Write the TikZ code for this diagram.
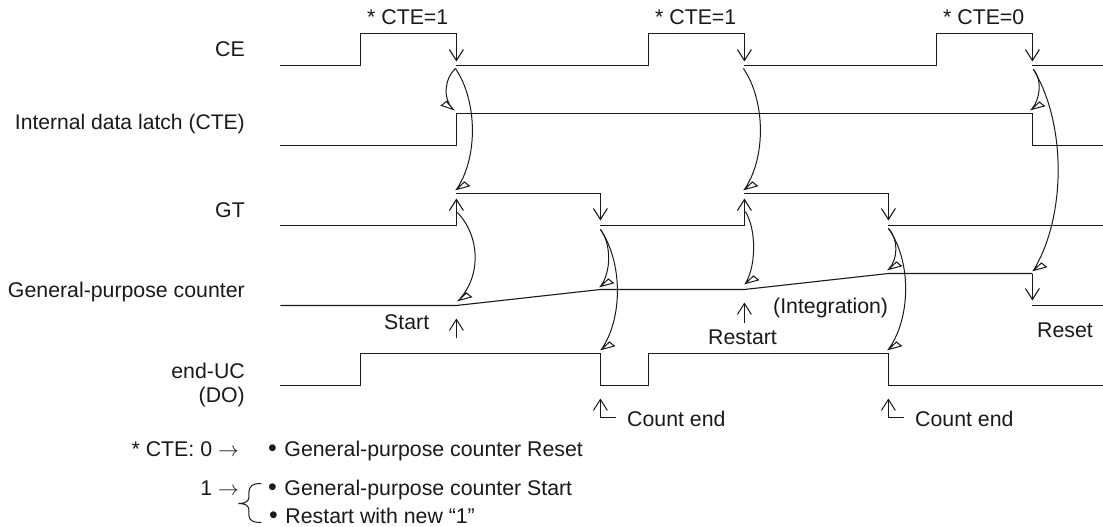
\documentclass[tikz,border=0pt]{standalone}
\usepackage{fontspec}
\setmainfont{Liberation Sans}
\usetikzlibrary{arrows.meta}
\definecolor{ink}{HTML}{1A1A1A}
\tikzset{
  wave/.style={draw=ink,line width=1.1pt},
  vee/.style={wave,-{Straight Barb[length=11pt,width=14pt,line width=1.1pt]}},
  cue/.style={draw=ink,line width=1pt,-{Straight Barb[length=11pt,width=14pt,line width=1pt]}},
  arcline/.style={draw=ink,line width=1pt,line join=miter},
  lab/.style={inner sep=0pt,anchor=base west,text=ink,font=\fontsize{21.3}{24}\selectfont},
  labr/.style={lab,anchor=base east}
}
\newcommand{\bul}{{\fontsize{25}{24}\selectfont\textbullet}\hspace{1.6pt} }
% arc from #1 to #2 with bulge #3/#4, closed with an open triangular head
\newcommand{\rarc}[4]{\draw[arcline] (#1) .. controls +(#3,#4) and +(#3,-#4) .. (#2) -- +(13,-3.5) -- +(8,-7.5) -- (#2);}
\newcommand{\larc}[4]{\draw[arcline] (#1) .. controls +(-#3,#4) and +(-#3,-#4) .. (#2) -- +(-12,-4) -- +(-7,-8) -- (#2);}
\begin{document}
\begin{tikzpicture}[x=1pt,y=-1pt]
\useasboundingbox (0,0) rectangle (1103,527);
\fill[white] (0,0) rectangle (1103,527);
% ---- labels
\node[labr] (lce) at (245,57) {CE};
\node[labr,font=\fontsize{21.1}{24}\selectfont] (llatch) at (245,129) {Internal data latch (CTE)};
\node[labr] (lgt) at (245,217) {GT};
\node[labr] (lcnt) at (245,297) {General-purpose counter};
\node[labr] (luc) at (245,378) {end-UC};
\node[labr] (ldo) at (245,402) {(DO)};
\node[lab] (t1) at (367,25) {* CTE=1};
\node[lab] (t2) at (655,25) {* CTE=1};
\node[lab] (t3) at (943,25) {* CTE=0};
\node[lab] (tstart) at (384,329) {Start};
\node[lab] (trestart) at (708,344) {Restart};
\node[lab] (tinteg) at (773,313) {(Integration)};
\node[lab] (treset) at (1037,337) {Reset};
\node[lab] (tend1) at (627,426) {Count end};
\node[lab] (tend2) at (915,426) {Count end};
\node[labr] (k0) at (239,456) {* CTE: 0 $\rightarrow$};
\node[labr] (k1) at (239,495) {1 $\rightarrow$};
\node[lab] (m0) at (268,456) {\bul General-purpose counter Reset};
\node[lab] (m1) at (268,495) {\bul General-purpose counter Start};
\node[lab] (m2) at (269,523) {\bul Restart with new “1”};
\begin{scope}[shift={(0.4,0.5)}]
% ---- anchor points
\foreach \n/\x/\y in {
 a1/456/65,a2/744/65,a3/1032/65,
 b1/456/113,b3/1032/113,
 g1/456/193,g2/600/225,g3/744/193,g4/888/225,
 h1/600/193,h2/888/193}{\coordinate (\n) at (\x,\y);}
% ---- CE
\draw[vee] (280,65) -- (360,65) -- (360,33) -- (456,33) -- (456,61);
\draw[vee] (a1) -- (648,65) -- (648,33) -- (744,33) -- (744,61);
\draw[vee] (a2) -- (936,65) -- (936,33) -- (1032,33) -- (1032,61);
\draw[wave] (a3) -- (1103,65);
% ---- latch
\draw[wave] (280,145) -- (456,145) -- (b1) -- (b3) -- (1032,145) -- (1103,145);
% ---- GT
\draw[vee] (280,225) -- (456,225) -- (456,198);
\draw[vee] (g1) -- (h1) -- (600,220);
\draw[vee] (g2) -- (744,225) -- (744,198);
\draw[vee] (g3) -- (h2) -- (888,220);
\draw[wave] (g4) -- (1103,225);
% ---- counter
\draw[wave] (280,305) -- (456,305) -- (600,289) -- (744,289) -- (888,273) -- (1032,273);
\draw[vee] (1032,273) -- (1032,300);
\draw[wave] (1032,305) -- (1103,305);
% ---- end-UC
\draw[wave] (280,385) -- (360,385) -- (360,353) -- (600,353) -- (600,385) -- (648,385) -- (648,353) -- (888,353) -- (888,385) -- (1103,385);
% ---- cue arrows
\coordinate (s1) at (456,337); \coordinate (s1t) at (456,318);
\coordinate (s2) at (744,322); \coordinate (s2t) at (744,302);
\draw[cue] (s1) -- (s1t);
\draw[cue] (s2) -- (s2t);
\draw[cue] (616,417) -- (600,417) -- (600,398);
\draw[cue] (904,417) -- (888,417) -- (888,398);
% ---- arcs
\coordinate (c1a) at (455,68); \coordinate (c1b) at (453,109);
\larc{c1a}{c1b}{11}{10}
\coordinate (c2a) at (455,68); \coordinate (c2b) at (456,189);
\rarc{c2a}{c2b}{22}{32}
\coordinate (c3a) at (457,212); \coordinate (c3b) at (458,300);
\rarc{c3a}{c3b}{23}{24}
\coordinate (c4a) at (600,229); \coordinate (c4b) at (600,286);
\rarc{c4a}{c4b}{11}{14}
\coordinate (c5a) at (600,229); \coordinate (c5b) at (601,349);
\rarc{c5a}{c5b}{22}{32}
\coordinate (c6a) at (743,68); \coordinate (c6b) at (744,189);
\rarc{c6a}{c6b}{22}{32}
\coordinate (c7a) at (745,211); \coordinate (c7b) at (745,283);
\rarc{c7a}{c7b}{11}{18}
\coordinate (c8a) at (888,228); \coordinate (c8b) at (888,269);
\rarc{c8a}{c8b}{10}{10}
\coordinate (c9a) at (888,228); \coordinate (c9b) at (888,349);
\rarc{c9a}{c9b}{23}{32}
\coordinate (c10a) at (1033,69); \coordinate (c10b) at (1031,109);
\rarc{c10a}{c10b}{9}{10}
\coordinate (c11a) at (1033,69); \coordinate (c11b) at (1033,270);
\rarc{c11a}{c11b}{33}{54}
% ---- brace
\coordinate (br) at (238,503);
\draw[draw=ink,line width=1pt] (261,483) .. controls (252,483) and (249,485) .. (248.5,492) -- (248.5,497) .. controls (248,501) and (245,503) .. (br) .. controls (245,503) and (248,505) .. (248.5,509) -- (248.5,515) .. controls (249,520) and (252,522) .. (261,522);
\end{scope}
\end{tikzpicture}
\end{document}
